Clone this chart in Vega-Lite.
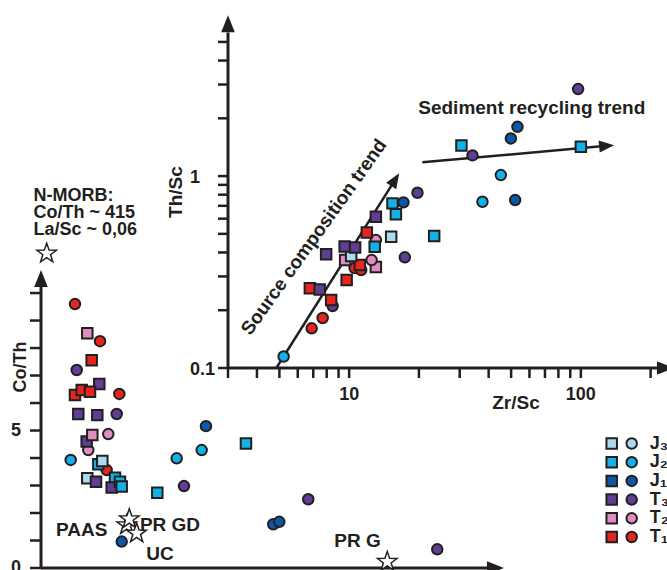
{
  "$schema": "https://vega.github.io/schema/vega-lite/v6.json",
  "width": 667,
  "height": 570,
  "autosize": "none",
  "padding": 0,
  "background": "white",
  "config": {"view": {"stroke": null}, "font": "Liberation Sans"},
  "datasets": {
    "mainPts": [
      {"grp": "T1", "sym": "ci", "lasc": 0.944, "coth": 9.6},
      {"grp": "T2", "sym": "sq", "lasc": 1.286, "coth": 8.54},
      {"grp": "T1", "sym": "ci", "lasc": 1.639, "coth": 8.25},
      {"grp": "T1", "sym": "sq", "lasc": 1.408, "coth": 7.56},
      {"grp": "T3", "sym": "ci", "lasc": 0.992, "coth": 7.2},
      {"grp": "T3", "sym": "sq", "lasc": 1.619, "coth": 6.69},
      {"grp": "T1", "sym": "sq", "lasc": 0.944, "coth": 6.29},
      {"grp": "T1", "sym": "sq", "lasc": 1.131, "coth": 6.47},
      {"grp": "T1", "sym": "sq", "lasc": 1.361, "coth": 6.41},
      {"grp": "T1", "sym": "ci", "lasc": 2.175, "coth": 6.33},
      {"grp": "T3", "sym": "sq", "lasc": 1.036, "coth": 5.6},
      {"grp": "T3", "sym": "sq", "lasc": 1.564, "coth": 5.56},
      {"grp": "T3", "sym": "ci", "lasc": 2.103, "coth": 5.6},
      {"grp": "T2", "sym": "ci", "lasc": 1.314, "coth": 4.29},
      {"grp": "T3", "sym": "sq", "lasc": 1.269, "coth": 4.6},
      {"grp": "T2", "sym": "sq", "lasc": 1.425, "coth": 4.84},
      {"grp": "T2", "sym": "ci", "lasc": 1.869, "coth": 4.87},
      {"grp": "J2", "sym": "ci", "lasc": 0.825, "coth": 3.93},
      {"grp": "T1", "sym": "ci", "lasc": 1.825, "coth": 3.56},
      {"grp": "J2", "sym": "sq", "lasc": 1.592, "coth": 3.77},
      {"grp": "J3", "sym": "sq", "lasc": 1.703, "coth": 3.89},
      {"grp": "J3", "sym": "sq", "lasc": 1.286, "coth": 3.26},
      {"grp": "T3", "sym": "sq", "lasc": 1.528, "coth": 3.14},
      {"grp": "J2", "sym": "sq", "lasc": 2.056, "coth": 3.28},
      {"grp": "T3", "sym": "sq", "lasc": 1.964, "coth": 2.93},
      {"grp": "J2", "sym": "sq", "lasc": 2.194, "coth": 3.14},
      {"grp": "J2", "sym": "sq", "lasc": 2.242, "coth": 2.96},
      {"grp": "J2", "sym": "sq", "lasc": 3.231, "coth": 2.74},
      {"grp": "T3", "sym": "ci", "lasc": 3.972, "coth": 2.98},
      {"grp": "J2", "sym": "ci", "lasc": 3.769, "coth": 3.99},
      {"grp": "J2", "sym": "ci", "lasc": 4.464, "coth": 4.29},
      {"grp": "J1", "sym": "ci", "lasc": 4.583, "coth": 5.16},
      {"grp": "J2", "sym": "sq", "lasc": 5.694, "coth": 4.53},
      {"grp": "J1", "sym": "ci", "lasc": 2.242, "coth": 0.96},
      {"grp": "T3", "sym": "ci", "lasc": 7.425, "coth": 2.5},
      {"grp": "J1", "sym": "ci", "lasc": 6.453, "coth": 1.59},
      {"grp": "J1", "sym": "ci", "lasc": 6.619, "coth": 1.68},
      {"grp": "T3", "sym": "ci", "lasc": 11.008, "coth": 0.68}
    ],
    "insetPts": [
      {"grp": "J2", "sym": "ci", "zrsc": 5.215, "thsc": 0.1148},
      {"grp": "T1", "sym": "ci", "zrsc": 6.89, "thsc": 0.161},
      {"grp": "T1", "sym": "ci", "zrsc": 7.685, "thsc": 0.1822},
      {"grp": "T3", "sym": "ci", "zrsc": 8.487, "thsc": 0.2103},
      {"grp": "T1", "sym": "sq", "zrsc": 8.363, "thsc": 0.2261},
      {"grp": "T1", "sym": "sq", "zrsc": 6.767, "thsc": 0.2602},
      {"grp": "T3", "sym": "sq", "zrsc": 7.46, "thsc": 0.2564},
      {"grp": "T1", "sym": "sq", "zrsc": 9.754, "thsc": 0.2873},
      {"grp": "T1", "sym": "ci", "zrsc": 10.56, "thsc": 0.3318},
      {"grp": "T1", "sym": "ci", "zrsc": 11.27, "thsc": 0.3238},
      {"grp": "T2", "sym": "sq", "zrsc": 9.61, "thsc": 0.3651},
      {"grp": "T2", "sym": "sq", "zrsc": 13.04, "thsc": 0.3357},
      {"grp": "T1", "sym": "sq", "zrsc": 11.12, "thsc": 0.3439},
      {"grp": "T2", "sym": "ci", "zrsc": 12.5, "thsc": 0.3651},
      {"grp": "J3", "sym": "sq", "zrsc": 10.2, "thsc": 0.3831},
      {"grp": "T3", "sym": "sq", "zrsc": 7.957, "thsc": 0.391},
      {"grp": "T3", "sym": "sq", "zrsc": 9.563, "thsc": 0.4293},
      {"grp": "T3", "sym": "sq", "zrsc": 10.61, "thsc": 0.4251},
      {"grp": "T2", "sym": "ci", "zrsc": 13.04, "thsc": 0.4642},
      {"grp": "J2", "sym": "sq", "zrsc": 12.89, "thsc": 0.4282},
      {"grp": "T1", "sym": "sq", "zrsc": 11.92, "thsc": 0.5078},
      {"grp": "T3", "sym": "sq", "zrsc": 13.04, "thsc": 0.6138},
      {"grp": "J3", "sym": "sq", "zrsc": 15.18, "thsc": 0.4829},
      {"grp": "J2", "sym": "sq", "zrsc": 15.91, "thsc": 0.6318},
      {"grp": "J2", "sym": "sq", "zrsc": 15.38, "thsc": 0.7208},
      {"grp": "J1", "sym": "ci", "zrsc": 17.15, "thsc": 0.7295},
      {"grp": "T3", "sym": "ci", "zrsc": 17.39, "thsc": 0.3772},
      {"grp": "T3", "sym": "ci", "zrsc": 19.72, "thsc": 0.8185},
      {"grp": "J2", "sym": "sq", "zrsc": 23.28, "thsc": 0.487},
      {"grp": "J2", "sym": "sq", "zrsc": 30.52, "thsc": 1.445},
      {"grp": "T3", "sym": "ci", "zrsc": 34.06, "thsc": 1.282},
      {"grp": "J2", "sym": "ci", "zrsc": 37.61, "thsc": 0.7348},
      {"grp": "J2", "sym": "ci", "zrsc": 45.15, "thsc": 1.012},
      {"grp": "J1", "sym": "ci", "zrsc": 52.05, "thsc": 0.75},
      {"grp": "J1", "sym": "ci", "zrsc": 49.88, "thsc": 1.572},
      {"grp": "J1", "sym": "ci", "zrsc": 53.26, "thsc": 1.806},
      {"grp": "J2", "sym": "sq", "zrsc": 100, "thsc": 1.421},
      {"grp": "T3", "sym": "ci", "zrsc": 97.3, "thsc": 2.839}
    ],
    "legendRows": [
      {"grp": "J3", "sym": "sq"}, {"grp": "J3", "sym": "ci"},
      {"grp": "J2", "sym": "sq"}, {"grp": "J2", "sym": "ci"},
      {"grp": "J1", "sym": "sq"}, {"grp": "J1", "sym": "ci"},
      {"grp": "T3", "sym": "sq"}, {"grp": "T3", "sym": "ci"},
      {"grp": "T2", "sym": "sq"}, {"grp": "T2", "sym": "ci"},
      {"grp": "T1", "sym": "sq"}, {"grp": "T1", "sym": "ci"}
    ],
    "legendLabels": [
      {"grp": "J3", "sym": "ci", "lab": "J₃"},
      {"grp": "J2", "sym": "ci", "lab": "J₂"},
      {"grp": "J1", "sym": "ci", "lab": "J₁"},
      {"grp": "T3", "sym": "ci", "lab": "T₃"},
      {"grp": "T2", "sym": "ci", "lab": "T₂"},
      {"grp": "T1", "sym": "ci", "lab": "T₁"}
    ],
    "mainAxisLines": [
      {"lasc": 0, "coth": 0, "lasc2": 0, "coth2": 10.3},
      {"lasc": 0, "coth": 0, "lasc2": 12.45, "coth2": 0}
    ],
    "mainTicks": [
      {"lasc": 0, "coth": 0}, {"lasc": 0, "coth": 1}, {"lasc": 0, "coth": 2}, {"lasc": 0, "coth": 3},
      {"lasc": 0, "coth": 4}, {"lasc": 0, "coth": 5}, {"lasc": 0, "coth": 6}, {"lasc": 0, "coth": 7},
      {"lasc": 0, "coth": 8}, {"lasc": 0, "coth": 9}, {"lasc": 0, "coth": 10}
    ],
    "mainTickLabels": [
      {"lasc": 0, "coth": 0, "lab": "0"}, {"lasc": 0, "coth": 5, "lab": "5"}
    ],
    "mainTexts": [
      {"lab": "PAAS", "lasc": 1.131, "coth": 1.382},
      {"lab": "PR GD", "lasc": 3.583, "coth": 1.582},
      {"lab": "UC", "lasc": 3.306, "coth": 0.527},
      {"lab": "PR G", "lasc": 8.792, "coth": 0.964}
    ],
    "morbText": [
      {"lab": "N-MORB:", "lasc": -0.208, "coth": 13.345},
      {"lab": "Co/Th ~ 415", "lasc": -0.208, "coth": 12.727},
      {"lab": "La/Sc ~ 0,06", "lasc": -0.208, "coth": 12.109}
    ],
    "refStars": [
      {"ref": "PAAS", "lasc": 2.381, "coth": 1.564},
      {"ref": "PR GD", "lasc": 2.453, "coth": 1.782},
      {"ref": "UC", "lasc": 2.658, "coth": 1.262},
      {"ref": "PR G", "lasc": 9.619, "coth": 0.229},
      {"ref": "N-MORB", "lasc": 0.158, "coth": 11.44}
    ],
    "insetAxisLines": [
      {"zrsc": 3, "thsc": 0.1, "zrsc2": 3, "thsc2": 5.6},
      {"zrsc": 3, "thsc": 0.1, "zrsc2": 215, "thsc2": 0.1}
    ],
    "insetXTicks": [
      {"zrsc": 3, "thsc": 0.1}, {"zrsc": 4, "thsc": 0.1}, {"zrsc": 5, "thsc": 0.1}, {"zrsc": 6, "thsc": 0.1},
      {"zrsc": 7, "thsc": 0.1}, {"zrsc": 8, "thsc": 0.1}, {"zrsc": 9, "thsc": 0.1}, {"zrsc": 10, "thsc": 0.1},
      {"zrsc": 20, "thsc": 0.1}, {"zrsc": 30, "thsc": 0.1}, {"zrsc": 40, "thsc": 0.1}, {"zrsc": 50, "thsc": 0.1},
      {"zrsc": 60, "thsc": 0.1}, {"zrsc": 70, "thsc": 0.1}, {"zrsc": 80, "thsc": 0.1}, {"zrsc": 90, "thsc": 0.1},
      {"zrsc": 100, "thsc": 0.1}, {"zrsc": 200, "thsc": 0.1}
    ],
    "insetYTicks": [
      {"zrsc": 3, "thsc": 0.1}, {"zrsc": 3, "thsc": 0.2}, {"zrsc": 3, "thsc": 0.3}, {"zrsc": 3, "thsc": 0.4},
      {"zrsc": 3, "thsc": 0.5}, {"zrsc": 3, "thsc": 0.6}, {"zrsc": 3, "thsc": 0.7}, {"zrsc": 3, "thsc": 0.8},
      {"zrsc": 3, "thsc": 0.9}, {"zrsc": 3, "thsc": 1}, {"zrsc": 3, "thsc": 2}, {"zrsc": 3, "thsc": 3},
      {"zrsc": 3, "thsc": 4}, {"zrsc": 3, "thsc": 5}
    ],
    "insetXLabels": [
      {"zrsc": 10, "thsc": 0.1, "lab": "10"}, {"zrsc": 100, "thsc": 0.1, "lab": "100"}
    ],
    "insetYLabels": [
      {"zrsc": 3, "thsc": 0.1, "lab": "0.1"}, {"zrsc": 3, "thsc": 1, "lab": "1"}
    ],
    "trends": [
      {"trend": "source", "i": 0, "zrsc": 4.85, "thsc": 0.1},
      {"trend": "source", "i": 1, "zrsc": 15.8, "thsc": 0.958},
      {"trend": "recycling", "i": 0, "zrsc": 20.7, "thsc": 1.18},
      {"trend": "recycling", "i": 1, "zrsc": 129.2, "thsc": 1.438}
    ]
  },
  "layer": [
    {"data": {"name": "mainAxisLines"},
      "mark": {"type": "rule", "color": "#231f20", "strokeWidth": 3},
      "encoding": {
        "x": {"field": "lasc", "type": "quantitative", "scale": {"domain": [0, 12.39], "range": [41, 487], "nice": false, "zero": false}, "axis": null},
        "y": {"field": "coth", "type": "quantitative", "scale": {"domain": [0, 10.22], "range": [568, 287], "nice": false, "zero": false}, "axis": null},
        "x2": {"field": "lasc2"}, "y2": {"field": "coth2"}}},
    {"data": {"name": "mainTicks"},
      "mark": {"type": "tick", "orient": "horizontal", "color": "#231f20", "size": 11, "thickness": 2.5, "xOffset": -5.5, "opacity": 1},
      "encoding": {
        "x": {"field": "lasc", "type": "quantitative", "scale": {"domain": [0, 12.39], "range": [41, 487], "nice": false, "zero": false}, "axis": null},
        "y": {"field": "coth", "type": "quantitative", "scale": {"domain": [0, 10.22], "range": [568, 287], "nice": false, "zero": false}, "axis": null}}},
    {"data": {"name": "mainTickLabels"},
      "mark": {"type": "text", "font": "Liberation Sans", "fontWeight": "bold", "fontSize": 18, "color": "#231f20", "align": "right", "baseline": "middle", "dx": -20},
      "encoding": {
        "x": {"field": "lasc", "type": "quantitative", "scale": {"domain": [0, 12.39], "range": [41, 487], "nice": false, "zero": false}, "axis": null},
        "y": {"field": "coth", "type": "quantitative", "scale": {"domain": [0, 10.22], "range": [568, 287], "nice": false, "zero": false}, "axis": null},
        "text": {"field": "lab"}}},
    {"data": {"values": [{"lab": "Co/Th", "lasc": -0.556, "coth": 7.31}]},
      "mark": {"type": "text", "font": "Liberation Sans", "fontWeight": "bold", "fontSize": 18, "color": "#231f20", "align": "center", "baseline": "middle", "angle": 270},
      "encoding": {
        "x": {"field": "lasc", "type": "quantitative", "scale": {"domain": [0, 12.39], "range": [41, 487], "nice": false, "zero": false}, "axis": null},
        "y": {"field": "coth", "type": "quantitative", "scale": {"domain": [0, 10.22], "range": [568, 287], "nice": false, "zero": false}, "axis": null},
        "text": {"field": "lab"}}},
    {"data": {"name": "mainPts"},
      "mark": {"type": "point", "filled": true, "size": 110, "stroke": "#231f20", "strokeWidth": 2, "opacity": 1},
      "encoding": {
        "x": {"field": "lasc", "type": "quantitative", "scale": {"domain": [0, 12.39], "range": [41, 487], "nice": false, "zero": false}, "axis": null},
        "y": {"field": "coth", "type": "quantitative", "scale": {"domain": [0, 10.22], "range": [568, 287], "nice": false, "zero": false}, "axis": null},
        "color": {"field": "grp", "type": "nominal", "scale": {"domain": ["J3","J2","J1","T3","T2","T1"], "range": ["#acdaf0","#12b2e8","#0d58a6","#5e3f93","#e08ec2","#e5261f"]}, "legend": null},
        "shape": {"field": "sym", "type": "nominal", "scale": {"domain": ["sq","ci"], "range": ["square","circle"]}, "legend": null}}},
    {"data": {"values": [{"lasc": 0, "coth": 10.527}]},
      "mark": {"type": "point", "shape": "M0,-1L0.8,1L-0.8,1Z", "size": 289, "filled": true, "color": "#231f20", "opacity": 1, "angle": 0},
      "encoding": {
        "x": {"field": "lasc", "type": "quantitative", "scale": {"domain": [0, 12.39], "range": [41, 487], "nice": false, "zero": false}, "axis": null},
        "y": {"field": "coth", "type": "quantitative", "scale": {"domain": [0, 10.22], "range": [568, 287], "nice": false, "zero": false}, "axis": null}}},
    {"data": {"values": [{"lasc": 12.625, "coth": 0}]},
      "mark": {"type": "point", "shape": "M0,-1L0.8,1L-0.8,1Z", "size": 289, "filled": true, "color": "#231f20", "opacity": 1, "angle": 90},
      "encoding": {
        "x": {"field": "lasc", "type": "quantitative", "scale": {"domain": [0, 12.39], "range": [41, 487], "nice": false, "zero": false}, "axis": null},
        "y": {"field": "coth", "type": "quantitative", "scale": {"domain": [0, 10.22], "range": [568, 287], "nice": false, "zero": false}, "axis": null}}},
    {"data": {"name": "refStars"},
      "mark": {"type": "point", "shape": "M0,-1L0.235,-0.324L0.951,-0.309L0.38,0.124L0.588,0.809L0,0.4L-0.588,0.809L-0.38,0.124L-0.951,-0.309L-0.235,-0.324Z", "size": 420, "filled": true, "fill": "white", "stroke": "#231f20", "strokeWidth": 1.5, "opacity": 1},
      "encoding": {
        "x": {"field": "lasc", "type": "quantitative", "scale": {"domain": [0, 12.39], "range": [41, 487], "nice": false, "zero": false}, "axis": null},
        "y": {"field": "coth", "type": "quantitative", "scale": {"domain": [0, 10.22], "range": [568, 287], "nice": false, "zero": false}, "axis": null}}},
    {"data": {"name": "mainTexts"},
      "mark": {"type": "text", "font": "Liberation Sans", "fontWeight": "bold", "fontSize": 19, "color": "#231f20", "align": "center", "baseline": "middle"},
      "encoding": {
        "x": {"field": "lasc", "type": "quantitative", "scale": {"domain": [0, 12.39], "range": [41, 487], "nice": false, "zero": false}, "axis": null},
        "y": {"field": "coth", "type": "quantitative", "scale": {"domain": [0, 10.22], "range": [568, 287], "nice": false, "zero": false}, "axis": null},
        "text": {"field": "lab"}}},
    {"data": {"name": "morbText"},
      "mark": {"type": "text", "font": "Liberation Sans", "fontWeight": "bold", "fontSize": 18, "color": "#231f20", "align": "left", "baseline": "alphabetic"},
      "encoding": {
        "x": {"field": "lasc", "type": "quantitative", "scale": {"domain": [0, 12.39], "range": [41, 487], "nice": false, "zero": false}, "axis": null},
        "y": {"field": "coth", "type": "quantitative", "scale": {"domain": [0, 10.22], "range": [568, 287], "nice": false, "zero": false}, "axis": null},
        "text": {"field": "lab"}}},
    {"data": {"name": "insetAxisLines"},
      "mark": {"type": "rule", "color": "#231f20", "strokeWidth": 3},
      "encoding": {
        "x": {"field": "zrsc", "type": "quantitative", "scale": {"type": "log", "domain": [3, 211], "range": [228, 656], "nice": false}, "axis": null},
        "y": {"field": "thsc", "type": "quantitative", "scale": {"type": "log", "domain": [0.1, 5.5], "range": [368, 34], "nice": false}, "axis": null},
        "x2": {"field": "zrsc2"}, "y2": {"field": "thsc2"}}},
    {"data": {"name": "insetXTicks"},
      "mark": {"type": "tick", "orient": "vertical", "color": "#231f20", "size": 10, "thickness": 2.5, "yOffset": 5, "opacity": 1},
      "encoding": {
        "x": {"field": "zrsc", "type": "quantitative", "scale": {"type": "log", "domain": [3, 211], "range": [228, 656], "nice": false}, "axis": null},
        "y": {"field": "thsc", "type": "quantitative", "scale": {"type": "log", "domain": [0.1, 5.5], "range": [368, 34], "nice": false}, "axis": null}}},
    {"data": {"name": "insetYTicks"},
      "mark": {"type": "tick", "orient": "horizontal", "color": "#231f20", "size": 10, "thickness": 2.5, "xOffset": -5, "opacity": 1},
      "encoding": {
        "x": {"field": "zrsc", "type": "quantitative", "scale": {"type": "log", "domain": [3, 211], "range": [228, 656], "nice": false}, "axis": null},
        "y": {"field": "thsc", "type": "quantitative", "scale": {"type": "log", "domain": [0.1, 5.5], "range": [368, 34], "nice": false}, "axis": null}}},
    {"data": {"name": "insetXLabels"},
      "mark": {"type": "text", "font": "Liberation Sans", "fontWeight": "bold", "fontSize": 18, "color": "#231f20", "align": "center", "baseline": "middle", "dy": 27},
      "encoding": {
        "x": {"field": "zrsc", "type": "quantitative", "scale": {"type": "log", "domain": [3, 211], "range": [228, 656], "nice": false}, "axis": null},
        "y": {"field": "thsc", "type": "quantitative", "scale": {"type": "log", "domain": [0.1, 5.5], "range": [368, 34], "nice": false}, "axis": null},
        "text": {"field": "lab"}}},
    {"data": {"name": "insetYLabels"},
      "mark": {"type": "text", "font": "Liberation Sans", "fontWeight": "bold", "fontSize": 18, "color": "#231f20", "align": "left", "baseline": "middle", "dx": -38, "dy": 2},
      "encoding": {
        "x": {"field": "zrsc", "type": "quantitative", "scale": {"type": "log", "domain": [3, 211], "range": [228, 656], "nice": false}, "axis": null},
        "y": {"field": "thsc", "type": "quantitative", "scale": {"type": "log", "domain": [0.1, 5.5], "range": [368, 34], "nice": false}, "axis": null},
        "text": {"field": "lab"}}},
    {"data": {"values": [{"lab": "Zr/Sc", "zrsc": 52.5, "thsc": 0.0661}]},
      "mark": {"type": "text", "font": "Liberation Sans", "fontWeight": "bold", "fontSize": 19, "color": "#231f20", "align": "center", "baseline": "middle"},
      "encoding": {
        "x": {"field": "zrsc", "type": "quantitative", "scale": {"type": "log", "domain": [3, 211], "range": [228, 656], "nice": false}, "axis": null},
        "y": {"field": "thsc", "type": "quantitative", "scale": {"type": "log", "domain": [0.1, 5.5], "range": [368, 34], "nice": false}, "axis": null},
        "text": {"field": "lab"}}},
    {"data": {"values": [{"lab": "Th/Sc", "zrsc": 1.788, "thsc": 0.825}]},
      "mark": {"type": "text", "font": "Liberation Sans", "fontWeight": "bold", "fontSize": 19, "color": "#231f20", "align": "center", "baseline": "middle", "angle": 270},
      "encoding": {
        "x": {"field": "zrsc", "type": "quantitative", "scale": {"type": "log", "domain": [3, 211], "range": [228, 656], "nice": false}, "axis": null},
        "y": {"field": "thsc", "type": "quantitative", "scale": {"type": "log", "domain": [0.1, 5.5], "range": [368, 34], "nice": false}, "axis": null},
        "text": {"field": "lab"}}},
    {"data": {"name": "trends"},
      "mark": {"type": "line", "color": "#231f20", "strokeWidth": 2.5},
      "encoding": {
        "x": {"field": "zrsc", "type": "quantitative", "scale": {"type": "log", "domain": [3, 211], "range": [228, 656], "nice": false}, "axis": null},
        "y": {"field": "thsc", "type": "quantitative", "scale": {"type": "log", "domain": [0.1, 5.5], "range": [368, 34], "nice": false}, "axis": null},
        "detail": {"field": "trend"}, "order": {"field": "i", "type": "quantitative"}}},
    {"data": {"name": "insetPts"},
      "mark": {"type": "point", "filled": true, "size": 110, "stroke": "#231f20", "strokeWidth": 2, "opacity": 1},
      "encoding": {
        "x": {"field": "zrsc", "type": "quantitative", "scale": {"type": "log", "domain": [3, 211], "range": [228, 656], "nice": false}, "axis": null},
        "y": {"field": "thsc", "type": "quantitative", "scale": {"type": "log", "domain": [0.1, 5.5], "range": [368, 34], "nice": false}, "axis": null},
        "color": {"field": "grp", "type": "nominal", "scale": {"domain": ["J3","J2","J1","T3","T2","T1"], "range": ["#acdaf0","#12b2e8","#0d58a6","#5e3f93","#e08ec2","#e5261f"]}, "legend": null},
        "shape": {"field": "sym", "type": "nominal", "scale": {"domain": ["sq","ci"], "range": ["square","circle"]}, "legend": null}}},
    {"data": {"values": [{"zrsc": 3, "thsc": 6.228}]},
      "mark": {"type": "point", "shape": "M0,-1L0.8,1L-0.8,1Z", "size": 289, "filled": true, "color": "#231f20", "opacity": 1, "angle": 0},
      "encoding": {
        "x": {"field": "zrsc", "type": "quantitative", "scale": {"type": "log", "domain": [3, 211], "range": [228, 656], "nice": false}, "axis": null},
        "y": {"field": "thsc", "type": "quantitative", "scale": {"type": "log", "domain": [0.1, 5.5], "range": [368, 34], "nice": false}, "axis": null}}},
    {"data": {"values": [{"zrsc": 231.9, "thsc": 0.1}]},
      "mark": {"type": "point", "shape": "M0,-1L0.8,1L-0.8,1Z", "size": 289, "filled": true, "color": "#231f20", "opacity": 1, "angle": 90},
      "encoding": {
        "x": {"field": "zrsc", "type": "quantitative", "scale": {"type": "log", "domain": [3, 211], "range": [228, 656], "nice": false}, "axis": null},
        "y": {"field": "thsc", "type": "quantitative", "scale": {"type": "log", "domain": [0.1, 5.5], "range": [368, 34], "nice": false}, "axis": null}}},
    {"data": {"values": [{"zrsc": 15.8, "thsc": 0.958}]},
      "mark": {"type": "point", "shape": "M0,-1L0.8,1L-0.8,1Z", "size": 225, "filled": true, "color": "#231f20", "opacity": 1, "angle": 32.3},
      "encoding": {
        "x": {"field": "zrsc", "type": "quantitative", "scale": {"type": "log", "domain": [3, 211], "range": [228, 656], "nice": false}, "axis": null},
        "y": {"field": "thsc", "type": "quantitative", "scale": {"type": "log", "domain": [0.1, 5.5], "range": [368, 34], "nice": false}, "axis": null}}},
    {"data": {"values": [{"zrsc": 129.2, "thsc": 1.438}]},
      "mark": {"type": "point", "shape": "M0,-1L0.8,1L-0.8,1Z", "size": 225, "filled": true, "color": "#231f20", "opacity": 1, "angle": 84.8},
      "encoding": {
        "x": {"field": "zrsc", "type": "quantitative", "scale": {"type": "log", "domain": [3, 211], "range": [228, 656], "nice": false}, "axis": null},
        "y": {"field": "thsc", "type": "quantitative", "scale": {"type": "log", "domain": [0.1, 5.5], "range": [368, 34], "nice": false}, "axis": null}}},
    {"data": {"values": [{"lab": "Source composition trend", "zrsc": 7.05, "thsc": 0.481}]},
      "mark": {"type": "text", "font": "Liberation Sans", "fontWeight": "bold", "fontSize": 19, "color": "#231f20", "align": "center", "baseline": "middle", "angle": 305.6},
      "encoding": {
        "x": {"field": "zrsc", "type": "quantitative", "scale": {"type": "log", "domain": [3, 211], "range": [228, 656], "nice": false}, "axis": null},
        "y": {"field": "thsc", "type": "quantitative", "scale": {"type": "log", "domain": [0.1, 5.5], "range": [368, 34], "nice": false}, "axis": null},
        "text": {"field": "lab"}}},
    {"data": {"values": [{"lab": "Sediment recycling trend", "zrsc": 61.4, "thsc": 2.261}]},
      "mark": {"type": "text", "font": "Liberation Sans", "fontWeight": "bold", "fontSize": 19, "color": "#231f20", "align": "center", "baseline": "middle"},
      "encoding": {
        "x": {"field": "zrsc", "type": "quantitative", "scale": {"type": "log", "domain": [3, 211], "range": [228, 656], "nice": false}, "axis": null},
        "y": {"field": "thsc", "type": "quantitative", "scale": {"type": "log", "domain": [0.1, 5.5], "range": [368, 34], "nice": false}, "axis": null},
        "text": {"field": "lab"}}},
    {"data": {"name": "legendRows"},
      "mark": {"type": "point", "filled": true, "size": 110, "stroke": "#231f20", "strokeWidth": 2, "opacity": 1},
      "encoding": {
        "x": {"field": "sym", "type": "nominal", "scale": {"type": "point", "domain": ["sq","ci"], "range": [611.7, 631.7], "padding": 0}, "axis": null},
        "y": {"field": "grp", "type": "nominal", "scale": {"type": "point", "domain": ["J3","J2","J1","T3","T2","T1"], "range": [443.5, 537], "padding": 0}, "axis": null},
        "color": {"field": "grp", "type": "nominal", "scale": {"domain": ["J3","J2","J1","T3","T2","T1"], "range": ["#acdaf0","#12b2e8","#0d58a6","#5e3f93","#e08ec2","#e5261f"]}, "legend": null},
        "shape": {"field": "sym", "type": "nominal", "scale": {"domain": ["sq","ci"], "range": ["square","circle"]}, "legend": null}}},
    {"data": {"name": "legendLabels"},
      "mark": {"type": "text", "font": "Liberation Sans", "fontWeight": "bold", "fontSize": 18, "color": "#231f20", "align": "left", "baseline": "middle", "dx": 18},
      "encoding": {
        "x": {"field": "sym", "type": "nominal", "scale": {"type": "point", "domain": ["sq","ci"], "range": [611.7, 631.7], "padding": 0}, "axis": null},
        "y": {"field": "grp", "type": "nominal", "scale": {"type": "point", "domain": ["J3","J2","J1","T3","T2","T1"], "range": [443.5, 537], "padding": 0}, "axis": null},
        "text": {"field": "lab"}}}
  ],
  "resolve": {"scale": {"x": "independent", "y": "independent"}}
}
